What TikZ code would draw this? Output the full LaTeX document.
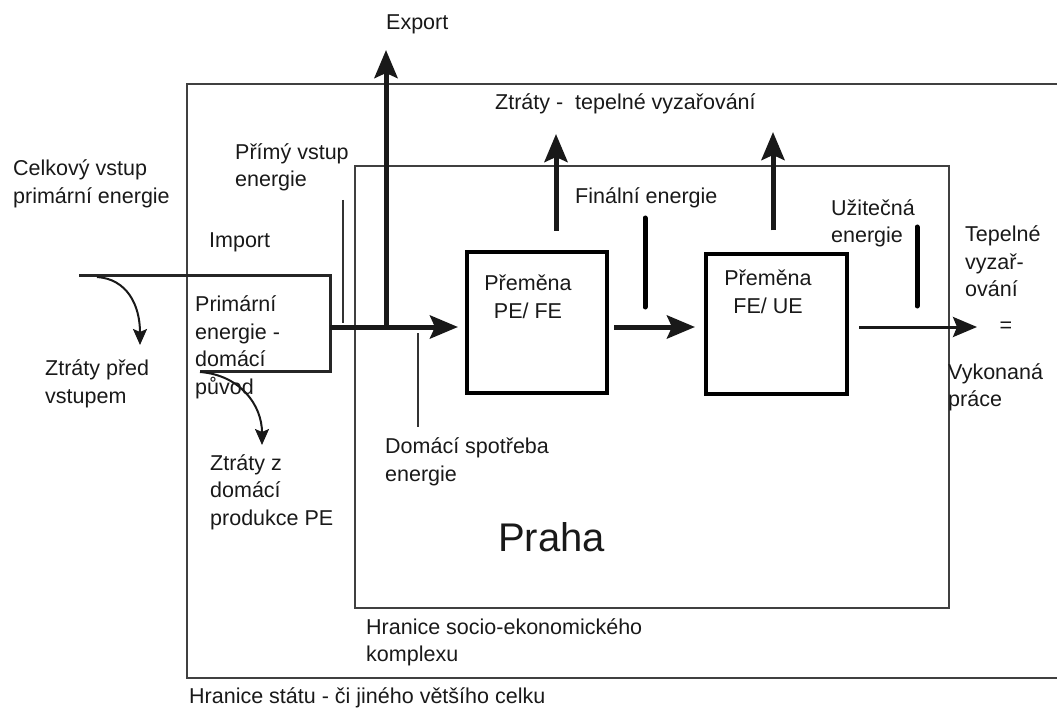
\documentclass[tikz,border=0pt]{standalone}
\usepackage{fontspec}
\setmainfont{Liberation Sans}
\usetikzlibrary{arrows.meta, positioning, calc}

\begin{document}
\begin{tikzpicture}[
    x=1pt, y=-1pt,
    node distance=9pt and 12pt,
    txt/.style={inner sep=0pt, anchor=west, align=left, text=black!90, font=\fontsize{21.5}{27.5}\selectfont},
    border/.style={rectangle, draw=black!75, line width=2pt, inner sep=0pt},
    convbox/.style={rectangle, draw=black, line width=4pt, inner sep=0pt},
    bigarrow/.style={-{Stealth[length=28pt, width=23pt, inset=5pt]}, line width=5pt, black!90},
    outarrow/.style={-{Stealth[length=24pt, width=20pt, inset=4pt]}, line width=3pt, black!90},
    lossarrow/.style={-{Stealth[length=16pt, width=14pt, inset=3pt]}, line width=2pt, black!90},
    stub/.style={line width=5pt, line cap=round, black},
    guide/.style={line width=1.5pt, black!80}
]
\useasboundingbox (0,0) rectangle (1057,711);
\clip (0,0) rectangle (1057,711);

% Boundaries
\node[border, minimum width=883pt, minimum height=594pt] (state) at (628.5,381) {};
\node[border, minimum width=594pt, minimum height=442pt] (socio) at (652,387) {};
\node[txt, below right=9pt and 12pt of socio.south west, anchor=north west] (sociolbl) {Hranice socio-ekonomického\\komplexu};
\node[txt] (statelbl) at (189,698) {Hranice státu - či jiného většího celku};
\node[txt, font=\fontsize{40}{48}\selectfont] (praha) at (498,537) {Praha};

% Conversion boxes
\node[convbox, minimum width=140pt, minimum height=141pt] (pefe) at (537,322.5) {};
\node[convbox, minimum width=141pt, minimum height=139pt] (feue) at (776.5,324) {};
\node[txt, anchor=center, align=center] (pefetxt) at (528,297) {Přeměna\\PE/ FE};
\node[txt, anchor=center, align=center] (feuetxt) at (768,292) {Přeměna\\FE/ UE};

% Labels
\node[txt] (export) at (386,24) {Export};
\node[txt] (heatloss) at (495,104) {Ztráty -\ \ tepelné vyzařování};
\node[txt] (totalin) at (13,184) {Celkový vstup\\primární energie};
\node[txt] (direct) at (235,167.5) {Přímý vstup\\energie};
\node[txt] (import) at (209,242) {Import};
\node[txt] (primary) at (195,347.5) {Primární\\energie -\\domácí\\původ};
\node[txt] (lossbefore) at (45,384) {Ztráty před\\vstupem};
\node[txt] (lossdom) at (210,492) {Ztráty z\\domácí\\produkce PE};
\node[txt] (domuse) at (385,462) {Domácí spotřeba\\energie};
\node[txt] (final) at (575,198) {Finální energie};
\node[txt] (useful) at (831,223.5) {Užitečná\\energie};
\node[txt] (heatout) at (965,261.5) {Tepelné\\vyzař-\\ování};
\node[txt, anchor=center] (equals) at (1006,327) {=};
\node[txt] (work) at (948,387.5) {Vykonaná\\práce};

% Free ends
\coordinate (impA) at (79,276);
\coordinate (impC) at (330,371);
\coordinate (impB) at (200,371);
\coordinate (flow) at (330,327);
\coordinate (expjoin) at (386,329);
\coordinate (exptip) at (386,50);
\coordinate (heat1) at (556,134);
\coordinate (heat2) at (773,132);
\coordinate (worktip) at (977,327);
\coordinate (before) at (97,277);
\coordinate (beforetip) at (140,345);
\coordinate (domloss) at (200,372);
\coordinate (domtip) at (262,445);
\coordinate (fin1) at (645,218);
\coordinate (fin2) at (645,307);
\coordinate (use1) at (917,227);
\coordinate (use2) at (917,306);
\coordinate (dir1) at (343,200);
\coordinate (dir2) at (343,323);
\coordinate (dom1) at (418,333);
\coordinate (dom2) at (418,427);

% Import bracket and losses
\draw[line width=3pt, black!85] (impA) -| (impC) -- (impB);
\draw[lossarrow] (before) .. controls +(30,2) and +(0,-40) .. (beforetip);
\draw[lossarrow] (domloss) .. controls +(40,3) and +(0,-40) .. (domtip);

% Main flow
\draw[bigarrow] (flow) -- ([xshift=-7pt]pefe.west |- flow);
\draw[bigarrow] (expjoin) -- (exptip);
\draw[bigarrow] ([xshift=5pt]pefe.east |- flow) -- ([xshift=-9pt]feue.west |- flow);
\draw[outarrow] ([xshift=10pt]feue.east |- flow) -- (worktip);
\draw[bigarrow] ([yshift=19pt]pefe.north -| heat1) -- (heat1);
\draw[bigarrow] ([yshift=22pt]feue.north -| heat2) -- (heat2);

% Markers
\draw[stub] (fin1) -- (fin2);
\draw[stub] (use1) -- (use2);
\draw[guide] (dir1) -- (dir2);
\draw[guide] (dom1) -- (dom2);

\end{tikzpicture}
\end{document}
